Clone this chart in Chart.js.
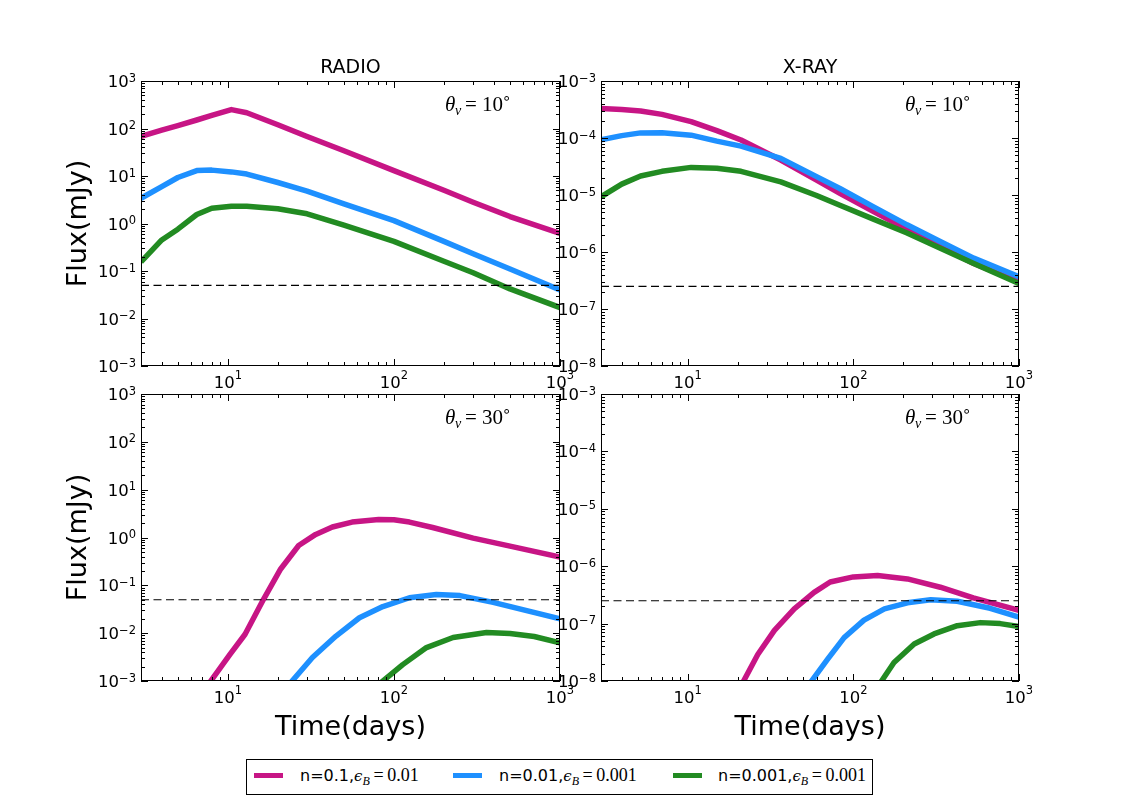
<!DOCTYPE html>
<html>
<head>
<meta charset="utf-8">
<title>Radio / X-ray light curves</title>
<script src="https://cdn.jsdelivr.net/npm/chart.js@4.4.0/dist/chart.umd.min.js"></script>
<style>
body{margin:0;background:#fff;}
#wrap{position:relative;width:1131px;height:800px;overflow:hidden;background:#fff;}
#wrap canvas{position:absolute;left:0;top:0;}
#legend{position:absolute;left:246px;top:759px;width:627px;height:36px;border:1px solid #000;box-sizing:border-box;
	font-family:"DejaVu Sans";font-size:16px;color:#000;background:#fff;}
.sw{position:absolute;top:13px;width:29px;height:5px;}
.lt{position:absolute;top:6px;line-height:18px;white-space:nowrap;}
.mi{font-family:"DejaVu Serif","Liberation Serif";font-style:italic;font-size:15px;}
.sb{font-family:"Liberation Serif";font-style:italic;font-size:12px;position:relative;top:4px;}
.mr{font-family:"Liberation Serif";font-size:18px;}
</style>
</head>
<body>
<div id="wrap">
	<canvas id="c1" width="1131" height="800"></canvas>
	<canvas id="c2" width="1131" height="800"></canvas>
	<canvas id="c3" width="1131" height="800"></canvas>
	<canvas id="c4" width="1131" height="800"></canvas>
	<div id="legend"></div>
</div>
<script>
// ---- data (time in days, flux in mJy) ----
var seriesNames = ['n=0.1', 'n=0.01', 'n=0.001'];
var seriesEpsB = ['0.01', '0.001', '0.001'];
var seriesColors = ['#c71585', '#1e90ff', '#228b22'];

var xTickExp = [1, 2, 3];
var radioTickExp = [-3, -2, -1, 0, 1, 2, 3];
var xrayTickExp = [-8, -7, -6, -5, -4, -3];

var radioLimit = 0.05;
var xrayLimit = 2.5e-7;

// radio, theta_v = 10
var tRadio10 = [3, 4, 5, 6.5, 8, 10.5, 13, 20, 30, 50, 100, 200, 300, 500, 1000];
var radio10A = [68, 92, 115, 151, 188, 250, 215, 120, 68, 34, 13, 5.0, 2.8, 1.4, 0.62];
var radio10B = [3.4, 6, 9.3, 13, 13.3, 12.2, 11, 7.3, 4.8, 2.6, 1.15, 0.42, 0.23, 0.11, 0.04];
var radio10C = [0.155, 0.45, 0.76, 1.55, 2.1, 2.3, 2.3, 2.05, 1.6, 0.92, 0.42, 0.16, 0.092, 0.042, 0.017];

// x-ray, theta_v = 10
var tXray10 = [3, 4, 5.2, 7, 10.5, 15, 21, 36.5, 60, 83, 130, 211, 330, 533, 1000];
var xray10A = [3.3e-4, 3.15e-4, 2.98e-4, 2.6e-4, 1.94e-4, 1.35e-4, 9.2e-5, 4.1e-5, 1.82e-5, 1.07e-5, 5.3e-6, 2.5e-6, 1.28e-6, 6.3e-7, 3.0e-7];
var xray10B = [9.3e-5, 1.1e-4, 1.23e-4, 1.24e-4, 1.12e-4, 8.8e-5, 7.2e-5, 4.4e-5, 2.1e-5, 1.3e-5, 6.4e-6, 3.0e-6, 1.56e-6, 7.8e-7, 3.7e-7];
var xray10C = [9.3e-6, 1.55e-5, 2.15e-5, 2.6e-5, 3.05e-5, 2.95e-5, 2.6e-5, 1.7e-5, 9.8e-6, 6.6e-6, 3.85e-6, 2.15e-6, 1.19e-6, 6.3e-7, 2.8e-7];

// radio, theta_v = 30
var tRadio30A = [7, 10.3, 12.7, 16.4, 20.8, 26.7, 33.8, 42.6, 56, 81, 100, 124, 171, 300, 500, 1000];
var radio30A = [5.6e-4, 3.6e-3, 9.5e-3, 0.051, 0.22, 0.68, 1.16, 1.66, 2.1, 2.37, 2.35, 2.1, 1.62, 0.97, 0.66, 0.39];
var tRadio30B = [22, 32.3, 44.8, 62, 85.8, 124, 180, 250, 396, 1000];
var radio30B = [6.6e-4, 3.1e-3, 8.7e-3, 0.021, 0.036, 0.055, 0.064, 0.061, 0.044, 0.020];
var tRadio30C = [78, 113, 157, 227, 361, 500, 700, 1000];
var radio30C = [7.6e-4, 2.2e-3, 5e-3, 8.1e-3, 0.0103, 0.0098, 0.0085, 0.0063];

// x-ray, theta_v = 30
var tXray30A = [20, 26.5, 33.4, 44, 58, 72.5, 100, 140, 212, 335, 530, 1000];
var xray30A = [6.3e-9, 2.9e-8, 7.6e-8, 1.8e-7, 3.5e-7, 5.3e-7, 6.5e-7, 6.9e-7, 6.0e-7, 4.3e-7, 2.8e-7, 1.7e-7];
var tXray30B = [50, 70, 88, 116, 154, 212, 293, 424, 670, 1000];
var xray30B = [6.4e-9, 2.4e-8, 5.7e-8, 1.15e-7, 1.8e-7, 2.3e-7, 2.6e-7, 2.45e-7, 1.85e-7, 1.3e-7];
var tXray30C = [135, 176, 233, 307, 424, 585, 770, 1000];
var xray30C = [6.7e-9, 2.1e-8, 4.4e-8, 6.6e-8, 9.2e-8, 1.04e-7, 1.0e-7, 8.9e-8];

var tMin = 3, tMax = 1000;

function pts(t, v){
	var out = [];
	for(var i = 0; i < t.length; i++){
		out.push({x: t[i], y: v[i]});
	}
	return out;
}

// "10" with a raised exponent, like matplotlib's log labels
function powLabel(ctx, exp, x, y, mode){
	var e = exp < 0 ? '\u2212' + (-exp) : String(exp);
	ctx.font = '16.5px "DejaVu Sans"';
	var wb = ctx.measureText('10').width;
	ctx.font = '11.5px "DejaVu Sans"';
	var we = ctx.measureText(e).width;
	var x0, yb, ys;
	if(mode === 'y'){
		x0 = x - wb - we; yb = y + 6; ys = y + 0.5;
	} else {
		x0 = x - (wb + we) / 2; yb = y + 22; ys = y + 13;
	}
	ctx.textAlign = 'left';
	ctx.textBaseline = 'alphabetic';
	ctx.font = '16.5px "DejaVu Sans"';
	ctx.fillText('10', x0, yb);
	ctx.font = '11.5px "DejaVu Sans"';
	ctx.fillText(e, x0 + wb, ys);
}

var axesDeco = {
	id: 'axesDeco',
	afterDraw: function(chart, args, o){
		var ctx = chart.ctx, a = chart.chartArea;
		var xs = chart.scales.x, ys = chart.scales.y;
		ctx.save();
		ctx.strokeStyle = '#000';
		ctx.fillStyle = '#000';
		ctx.lineWidth = 1;
		ctx.strokeRect(a.left + 0.5, a.top + 0.5, a.right - a.left - 1, a.bottom - a.top - 1);

		ctx.beginPath();
		// ticks along x (top and bottom, pointing in)
		for(var d = 0; d <= 3; d++){
			for(var m = 1; m <= 9; m++){
				var v = m * Math.pow(10, d);
				if(v < xs.min * 0.999 || v > xs.max * 1.001) continue;
				var px = Math.round(xs.getPixelForValue(v)) + 0.5;
				var len = m === 1 ? 7 : 4;
				ctx.moveTo(px, a.bottom); ctx.lineTo(px, a.bottom - len);
				ctx.moveTo(px, a.top); ctx.lineTo(px, a.top + len);
			}
		}
		// ticks along y (left and right)
		for(var d2 = -9; d2 <= 3; d2++){
			for(var m2 = 1; m2 <= 9; m2++){
				var v2 = m2 * Math.pow(10, d2);
				if(v2 < ys.min * 0.999 || v2 > ys.max * 1.001) continue;
				var py = Math.round(ys.getPixelForValue(v2)) + 0.5;
				var len2 = m2 === 1 ? 7 : 4;
				ctx.moveTo(a.left, py); ctx.lineTo(a.left + len2, py);
				ctx.moveTo(a.right, py); ctx.lineTo(a.right - len2, py);
			}
		}
		ctx.stroke();

		// tick labels
		for(var i = 0; i < xTickExp.length; i++){
			powLabel(ctx, xTickExp[i], xs.getPixelForValue(Math.pow(10, xTickExp[i])), a.bottom, 'x');
		}
		for(var j = 0; j < o.yExps.length; j++){
			powLabel(ctx, o.yExps[j], a.left - 5, ys.getPixelForValue(Math.pow(10, o.yExps[j])), 'y');
		}

		var cx = (a.left + a.right) / 2;
		if(o.title){
			ctx.font = '19px "DejaVu Sans"';
			ctx.textAlign = 'center';
			ctx.fillText(o.title, cx, a.top - 8);
		}
		if(o.xLabel){
			ctx.font = '27px "DejaVu Sans"';
			ctx.textAlign = 'center';
			ctx.fillText('Time(days)', cx, 735);
		}
		if(o.yLabel){
			ctx.save();
			ctx.translate(86, (a.top + a.bottom) / 2);
			ctx.rotate(-Math.PI / 2);
			ctx.font = '27px "DejaVu Sans"';
			ctx.textAlign = 'center';
			ctx.fillText('Flux(mJy)', 0, 0);
			ctx.restore();
		}

		// viewing angle note, theta_v = ..
		var tx = a.left + 304, ty = a.top + 30;
		ctx.textAlign = 'left';
		ctx.font = 'italic 21px "Liberation Serif"';
		ctx.fillText('\u03b8', tx, ty);
		ctx.font = 'italic 14px "Liberation Serif"';
		ctx.fillText('v', tx + 10, ty + 4);
		ctx.font = '21px "Liberation Serif"';
		ctx.fillText('=', tx + 20, ty);
		ctx.fillText(o.angle, tx + 37, ty);
		ctx.font = '15px "DejaVu Sans"';
		ctx.fillText('\u2218', tx + 57, ty - 8);
		ctx.restore();
	}
};

function panel(id, box, yMin, yMax, curves, limit, deco){
	var sets = [];
	for(var i = 0; i < curves.length; i++){
		sets.push({
			data: pts(curves[i][0], curves[i][1]),
			borderColor: seriesColors[i],
			borderWidth: 5.5,
			borderCapStyle: 'butt',
			borderJoinStyle: 'round',
			pointRadius: 0,
			tension: 0,
			fill: false,
			clip: 0,
			order: 3 - i
		});
	}
	sets.push({
		data: pts([tMin, tMax], [limit, limit]),
		borderColor: '#000',
		borderWidth: 1.2,
		borderDash: [8, 4.5],
		pointRadius: 0,
		tension: 0,
		fill: false,
		clip: 0,
		order: 0
	});

	return new Chart(document.getElementById(id), {
		type: 'line',
		data: {datasets: sets},
		options: {
			responsive: false,
			animation: false,
			events: [],
			layout: {padding: {left: box[0], top: box[1], right: 1131 - box[2], bottom: 800 - box[3]}},
			plugins: {legend: {display: false}, tooltip: {enabled: false}, axesDeco: deco},
			scales: {
				x: {type: 'logarithmic', min: tMin, max: tMax, display: false},
				y: {type: 'logarithmic', min: yMin, max: yMax, display: false}
			}
		},
		plugins: [axesDeco]
	});
}

panel('c1', [141, 81, 560, 366], 1e-3, 1e3,
	[[tRadio10, radio10A], [tRadio10, radio10B], [tRadio10, radio10C]], radioLimit,
	{title: 'RADIO', yLabel: true, xLabel: false, yExps: radioTickExp, angle: '10'});
panel('c2', [601, 81, 1019, 366], 1e-8, 1e-3,
	[[tXray10, xray10A], [tXray10, xray10B], [tXray10, xray10C]], xrayLimit,
	{title: 'X-RAY', yLabel: false, xLabel: false, yExps: xrayTickExp, angle: '10'});
panel('c3', [141, 394, 560, 681], 1e-3, 1e3,
	[[tRadio30A, radio30A], [tRadio30B, radio30B], [tRadio30C, radio30C]], radioLimit,
	{title: '', yLabel: true, xLabel: true, yExps: radioTickExp, angle: '30'});
panel('c4', [601, 394, 1019, 681], 1e-8, 1e-3,
	[[tXray30A, xray30A], [tXray30B, xray30B], [tXray30C, xray30C]], xrayLimit,
	{title: '', yLabel: false, xLabel: true, yExps: xrayTickExp, angle: '30'});

// legend below the panels
var swX = [7, 206, 426];
var txX = [53, 252, 471];
var html = '';
for(var k = 0; k < seriesNames.length; k++){
	html += '<div class="sw" style="left:' + swX[k] + 'px;background:' + seriesColors[k] + '"></div>' +
		'<div class="lt" style="left:' + txX[k] + 'px">' + seriesNames[k] + ',' +
		'<span class="mi">\u03f5</span><span class="sb">B</span>' +
		'<span class="mr">\u2009=\u2009' + seriesEpsB[k] + '</span></div>';
}
document.getElementById('legend').innerHTML = html;
</script>
</body>
</html>
